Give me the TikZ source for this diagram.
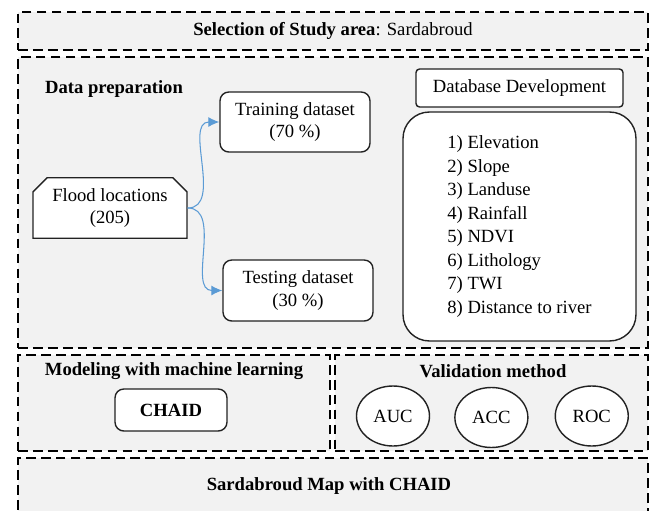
\documentclass[tikz,border=0pt]{standalone}
\usepackage{fontspec}
\setmainfont{Liberation Serif}
\usepackage{tikz}
\usetikzlibrary{arrows.meta,positioning,shapes.geometric,shapes.misc}
\definecolor{paper}{HTML}{F2F2F2}
\definecolor{ink}{HTML}{222222}
\definecolor{sky}{HTML}{5B9BD5}
\tikzset{
  frame/.style={draw=black,fill=paper,line width=1.6pt,dash pattern=on 5.5pt off 3pt,inner sep=0pt},
  boxr/.style={draw=ink,fill=white,rounded corners=5pt,line width=0.8pt,align=center,inner sep=2pt,font=\fontsize{10.6}{12.8}\selectfont},
  boxf/.style={boxr,rounded corners=0pt,chamfered rectangle,chamfered rectangle corners={north west,north east},chamfered rectangle sep=4pt},
  oval/.style={draw=ink,fill=white,ellipse,line width=0.8pt,inner sep=0pt,minimum width=14.6mm,minimum height=12mm,font=\fontsize{10.6}{12}\selectfont},
  arr/.style={-{Latex[length=2.2mm,width=2mm]},line width=0.6pt,color=sky},
  head/.style={font=\fontsize{10.6}{12}\selectfont\bfseries},
}
\begin{document}
\begin{tikzpicture}[x=0.02cm,y=-0.02cm,node distance=5mm]
\useasboundingbox (0,0) rectangle (657,511);
% outer stages
\node[frame,minimum width=126mm,minimum height=7.6mm] (study) at (333,31) {};
\node[font=\fontsize{10.6}{12}\selectfont] at (study.center) {\textbf{Selection of Study area}: Sardabroud};
\node[frame,minimum width=126mm,minimum height=58.2mm] (prep) at (333,202.5) {};
\node[frame,minimum width=62.4mm,minimum height=19.2mm] (model) at (174,403) {};
\node[frame,minimum width=62.6mm,minimum height=19.2mm] (valid) at (491.5,403) {};
\node[frame,minimum width=126mm,minimum height=14.4mm] (result) at (333,494) {};
\node[head] at (329,486) {Sardabroud Map with CHAID};
% data preparation
\node[head] (prephead) at (114,89) {Data preparation};
\node[boxf,minimum width=30.8mm,minimum height=10.4mm] (flood) at (110,208) {Flood locations\\(205)};
\node[boxr,minimum width=30mm,minimum height=12mm] (train) at (295,122) {Training dataset\\(70 \%)};
\node[boxr,minimum width=30mm,minimum height=12.2mm] (test) at (298,290.5) {Testing dataset\\(30 \%)};
\draw[arr] (flood.east) to[out=0,in=180] (train.west);
\draw[arr] (flood.east) to[out=0,in=180] (test.west);
\node[boxr,rounded corners=2pt,minimum width=41.4mm,minimum height=7.6mm] (dbhead) at (519.5,88) {Database Development};
\node[boxr,rounded corners=15pt,minimum width=46.6mm,minimum height=45.8mm,align=left,font=\fontsize{10.6}{13.4}\selectfont] (factors) at (519.5,226.5)
  {1) Elevation\\2) Slope\\3) Landuse\\4) Rainfall\\5) NDVI\\6) Lithology\\7) TWI\\8) Distance to river};
% modeling and validation
\node[head] (modhead) at (174,371) {Modeling with machine learning};
\node[boxr,font=\fontsize{10.6}{12}\selectfont\bfseries,minimum width=22.4mm,minimum height=8.4mm] (chaid) at (171,410) {CHAID};
\node[head] (valhead) at (493,371) {Validation method};
\node[oval] (auc) at (393,416) {AUC};
\node[oval,right=4.8mm of auc,yshift=-0.3mm] (acc) {ACC};
\node[oval,right=5.2mm of acc,yshift=0.3mm] (roc) {ROC};
\end{tikzpicture}
\end{document}
